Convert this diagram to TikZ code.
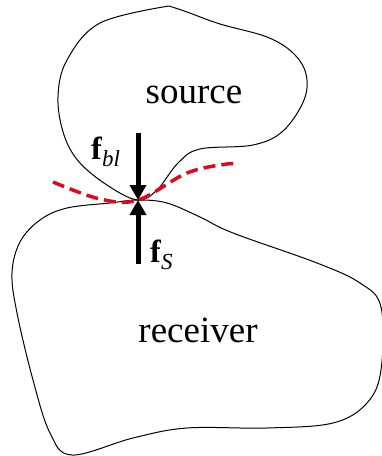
\documentclass[tikz,border=0pt]{standalone}
\usepackage{fontspec}
\setmainfont{Liberation Serif}
\usetikzlibrary{arrows.meta}
\definecolor{dashred}{RGB}{220,10,30}
\tikzset{
  body/.style={draw=black, line width=1pt},
  force/.style={line width=5pt, -{Triangle[width=16pt,length=15pt]}},
  cut/.style={draw=dashred, line width=3.5pt, dash pattern=on 12pt off 6pt},
  lbl/.style={inner sep=0pt, anchor=base, font=\fontsize{37}{40}\selectfont},
  flbl/.style={inner sep=0pt, anchor=base west},
}
\begin{document}
\begin{tikzpicture}[x=1pt,y=-1pt]
\useasboundingbox (0,0) rectangle (382,456);
\coordinate (c) at (138,200);
% source
\draw[body] plot[smooth, tension=0.6] coordinates {(169,6) (100,23) (67,60) (58,97) (64,135) (80,163) (110,187) (c) (157,190) (178,163) (200,149) (253,145) (283,131) (304,100) (306,74) (293,53) (267,37) (220,24) (187,12) (169,6)};
% receiver
\draw[body] plot[smooth cycle, tension=0.6] coordinates {(c) (110,203) (67,208) (40,220) (20,242) (12,273) (17,313) (33,380) (50,433) (72,455) (133,438) (187,428) (267,428) (333,423) (367,403) (381,370) (381,307) (360,283) (317,263) (233,233) (200,217) (167,203)};
% cut line
\draw[cut] plot[smooth, tension=0.6] coordinates {(53,182) (100,199) (c) (187,173) (227,164) (237,165)};
% forces
\coordinate (ftop) at (138,133);
\coordinate (fbot) at (138,264);
\draw[force] (ftop) -- (c);
\draw[force] (fbot) -- (c);
\node[lbl] (src) at (194,103) {source};
\node[lbl] (rcv) at (198,342) {receiver};
\node[flbl] (fbl) at (91,159) {\fontsize{32}{34}\selectfont\textbf{f}\raisebox{-0.22em}{\fontsize{23}{25}\selectfont\itshape bl}};
\node[flbl] (fs) at (150,262) {\fontsize{32}{34}\selectfont\textbf{f}\raisebox{-0.22em}{\fontsize{23}{25}\selectfont\itshape S}};
\end{tikzpicture}
\end{document}
